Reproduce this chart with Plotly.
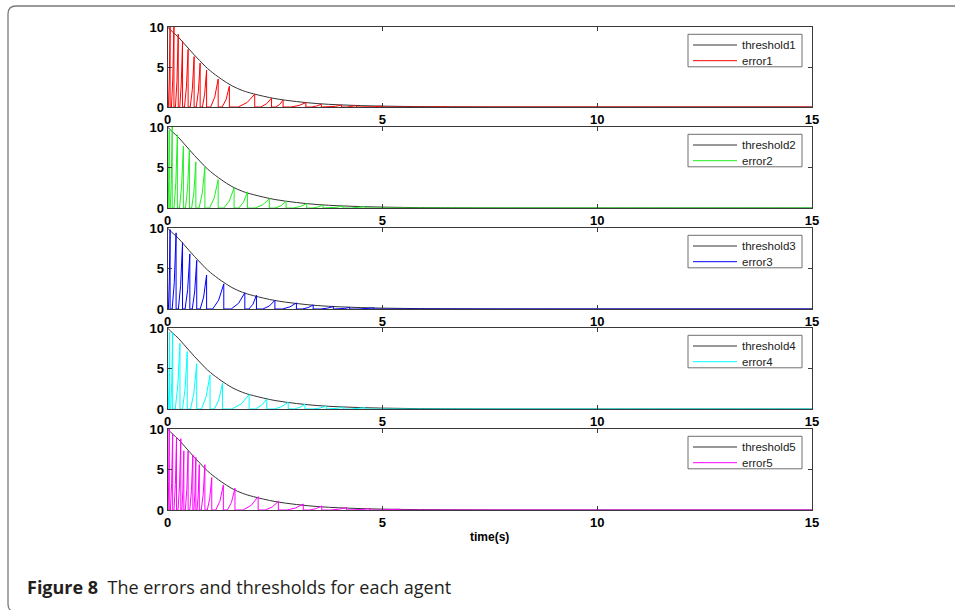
import plotly.graph_objects as go

W, H = 955, 610

# ---------------- data ----------------
time_ticks = [0, 5, 10, 15]
y_ticks = [0, 5, 10]

# threshold curve (same for all agents)
thr_t = [0, 0.125, 0.25, 0.375, 0.5, 0.625, 0.75, 0.875, 1.0, 1.25, 1.5, 1.75,
         2.0, 2.5, 3.0, 3.5, 4.0, 4.5, 5.0, 5.5, 6.0, 7.0, 8.0, 10.0, 15.0]
thr_v = [10, 9.35, 8.75, 8.0, 7.25, 6.5, 5.8, 5.1, 4.5, 3.5, 2.65, 2.05,
         1.65, 1.05, 0.68, 0.42, 0.27, 0.17, 0.11, 0.07, 0.045, 0.02, 0.008, 0.002, 0.0]

# triggering instants and error peak just before each reset
ev1_t = [0.06, 0.15, 0.25, 0.35, 0.48, 0.62, 0.76, 0.91, 1.18, 1.44, 2.03, 2.42, 2.69, 3.22, 3.58, 4.05, 4.4, 5.0, 5.7, 6.5]
ev1_p = [10, 10, 9.1, 8.2, 7.2, 6.3, 5.5, 4.6, 3.5, 2.6, 1.6, 1.1, 0.87, 0.55, 0.35, 0.24, 0.17, 0.11, 0.06, 0.03]

ev2_t = [0.04, 0.11, 0.23, 0.37, 0.51, 0.66, 0.87, 1.18, 1.55, 1.86, 2.37, 2.76, 3.24, 3.62, 4.08, 4.6, 5.3, 6.1]
ev2_p = [9.6, 10, 9.05, 7.65, 7.3, 5.7, 5.05, 3.5, 2.5, 2.0, 1.15, 0.83, 0.55, 0.36, 0.25, 0.16, 0.09, 0.05]

ev3_t = [0.06, 0.2, 0.35, 0.52, 0.68, 0.91, 1.31, 1.8, 2.07, 2.5, 3.0, 3.39, 3.86, 4.24, 4.8, 5.5, 6.3]
ev3_p = [9.8, 9.4, 8.2, 6.8, 6.0, 4.2, 3.1, 2.0, 1.7, 1.07, 0.75, 0.5, 0.3, 0.2, 0.13, 0.07, 0.04]

ev4_t = [0.05, 0.12, 0.29, 0.46, 0.68, 0.99, 1.28, 1.9, 2.31, 2.81, 3.2, 3.7, 4.08, 4.6, 5.3, 6.1]
ev4_p = [9.5, 9.4, 8.1, 7.1, 5.6, 4.2, 3.2, 1.77, 1.23, 0.83, 0.6, 0.35, 0.25, 0.16, 0.09, 0.05]

ev5_t = [0.04, 0.12, 0.21, 0.31, 0.38, 0.48, 0.59, 0.66, 0.74, 0.87, 1.03, 1.3, 1.57, 2.11, 2.58, 3.16, 3.59, 4.17, 4.7, 5.4, 6.2]
ev5_p = [10, 9.4, 9.0, 8.8, 7.3, 7.3, 6.8, 6.5, 5.6, 5.6, 4.0, 3.1, 2.7, 1.65, 1.07, 0.74, 0.5, 0.3, 0.18, 0.1, 0.05]

threshold_names = ["threshold1", "threshold2", "threshold3", "threshold4", "threshold5"]
error_names = ["error1", "error2", "error3", "error4", "error5"]
events_t = [ev1_t, ev2_t, ev3_t, ev4_t, ev5_t]
events_p = [ev1_p, ev2_p, ev3_p, ev4_p, ev5_p]
error_colors = ["#ff0000", "#22ee22", "#0000ff", "#00ffff", "#ff00ff"]
THR_COLOR = "#333333"

# ---------------- style / layout ----------------
# shape of the growth of the error between two triggers (fraction of interval, fraction of peak)
RAMP = [(0.35, 0.0), (0.7, 0.35), (1.0, 1.0)]

def sawtooth(ts, ps, t_end=15.0):
    xs, ys = [0.0], [0.0]
    prev = 0.0
    for t, p in zip(ts, ps):
        d = t - prev
        for fx, fy in RAMP:
            xs.append(prev + fx * d)
            ys.append(fy * p)
        xs.append(t)
        ys.append(0.0)
        prev = t
    xs.append(t_end)
    ys.append(0.0)
    return xs, ys

def px(x):
    return x / W

def py(y):
    return 1 - y / H

X0, X1 = 167.5, 812.0
rows_px = [(27, 107), (127, 208), (228, 309), (328, 409), (429, 510)]

tickfont = dict(family="Liberation Sans", size=13, color="black", weight="bold")
ax_common = dict(showline=True, linecolor="#3a3a3a", linewidth=1, mirror="ticks",
                 ticks="inside", ticklen=4, tickcolor="#3a3a3a", showgrid=False,
                 zeroline=False, tickfont=tickfont, automargin=False, fixedrange=True)

fig = go.Figure()
layout = dict(width=W, height=H, margin=dict(l=0, r=0, t=0, b=0),
              paper_bgcolor="white", plot_bgcolor="white", showlegend=False)

shapes = []
annotations = []
for i in range(1, 6):
    tn, en = threshold_names[i - 1], error_names[i - 1]
    ts, ps, col = events_t[i - 1], events_p[i - 1], error_colors[i - 1]
    top, bot = rows_px[i - 1]
    xa = "x" if i == 1 else f"x{i}"
    ya = "y" if i == 1 else f"y{i}"
    fig.add_trace(go.Scatter(x=thr_t, y=thr_v, mode="lines", name=tn,
                             line=dict(color=THR_COLOR, width=1, shape="spline"),
                             xaxis=xa, yaxis=ya))
    ex, ey = sawtooth(ts, ps)
    fig.add_trace(go.Scatter(x=ex, y=ey, mode="lines", name=en,
                             line=dict(color=col, width=1),
                             xaxis=xa, yaxis=ya))
    layout["xaxis" if i == 1 else f"xaxis{i}"] = dict(
        ax_common, domain=[X0 / W, X1 / W], range=[0, 15], tickvals=time_ticks,
        anchor=ya)
    layout["yaxis" if i == 1 else f"yaxis{i}"] = dict(
        ax_common, domain=[1 - bot / H, 1 - top / H], range=[0, 10], tickvals=y_ticks,
        anchor=xa)

    # legend box (MATLAB style, compact rows)
    bt = top + 7.3
    shapes.append(dict(type="rect", xref="paper", yref="paper",
                       x0=px(688), x1=px(802), y0=py(bt), y1=py(bt + 32.5),
                       line=dict(color="#6e6e6e", width=1), fillcolor="white", layer="above"))
    for k, (name, c) in enumerate([(tn, THR_COLOR), (en, col)]):
        yy = bt + 10.7 + k * 15.7
        shapes.append(dict(type="line", xref="paper", yref="paper",
                           x0=px(693), x1=px(737), y0=py(yy), y1=py(yy),
                           line=dict(color=c, width=1), layer="above"))
        annotations.append(dict(x=px(739.5), y=py(yy), xref="paper", yref="paper",
                                text=name, showarrow=False, xanchor="left", yanchor="middle",
                                font=dict(family="Liberation Sans", size=11.5, color="#222222")))

fig.update_layout(**layout)

path = (f"M {px(965)} {py(6)} L {px(16)} {py(6)} Q {px(8)} {py(6)} {px(8)} {py(14)} "
        f"L {px(8)} {py(604)} Q {px(8)} {py(612)} {px(16)} {py(612)}")
shapes.append(dict(type="path", path=path, xref="paper", yref="paper",
                   line=dict(color="#7a7a7a", width=1.3)))

annotations.append(dict(x=(X0 + X1) / 2 / W, y=py(537), xref="paper", yref="paper",
                        text="<b>time(s)</b>", showarrow=False, xanchor="center", yanchor="middle",
                        font=dict(family="Liberation Sans", size=12, color="black")))
annotations.append(dict(x=px(25), y=py(587), xref="paper", yref="paper",
                        text="<b>Figure 8</b>&nbsp; The errors and thresholds for each agent",
                        showarrow=False, xanchor="left", yanchor="middle",
                        font=dict(family="Open Sans", size=18, color="#231f20")))

fig.update_layout(shapes=shapes, annotations=annotations)

fig.write_html("out.html")
